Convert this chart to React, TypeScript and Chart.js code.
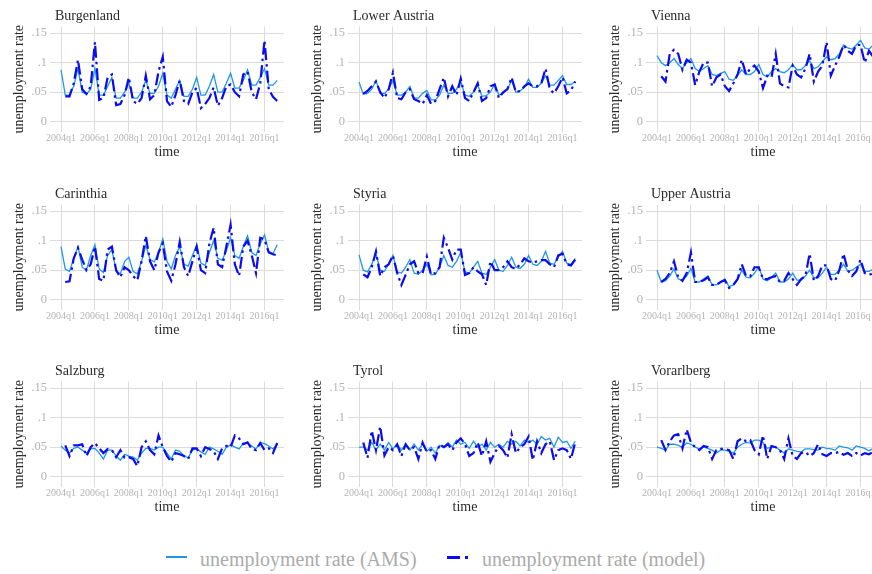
import React, { useEffect, useRef } from "react";
import { Chart, registerables } from "chart.js";

Chart.register(...registerables);

const FONT = "'Liberation Serif', 'Times New Roman', serif";
const AMS_COLOR = "#1f97e2";
const MODEL_COLOR = "#0b0bf2";
const TICK_COLOR = "#b4b4b4";
const GRID_COLOR = "#dcdcdc";
const TEXT_COLOR = "#2a2a2a";

const xTickQuarters = [0, 8, 16, 24, 32, 40, 48];
const xTickLabels = ["2004q1", "2006q1", "2008q1", "2010q1", "2012q1", "2014q1", "2016q1"];
const yTickValues = [0, 0.05, 0.1, 0.15];
const yTickLabels = ["0", ".05", ".1", ".15"];
const regionNames = ["Burgenland", "Lower Austria", "Vienna", "Carinthia", "Styria", "Upper Austria", "Salzburg", "Tyrol", "Vorarlberg"];

const burgenlandAMS = [0.088, 0.045, 0.045, 0.060, 0.090, 0.050, 0.047, 0.055, 0.090, 0.045, 0.045, 0.060, 0.075, 0.040, 0.040, 0.050, 0.065, 0.040, 0.040, 0.050, 0.070, 0.048, 0.048, 0.060, 0.082, 0.045, 0.040, 0.055, 0.070, 0.043, 0.043, 0.055, 0.075, 0.045, 0.045, 0.060, 0.080, 0.050, 0.050, 0.065, 0.082, 0.057, 0.057, 0.070, 0.088, 0.062, 0.062, 0.075, 0.090, 0.062, 0.062, 0.070];
const burgenlandModel = [null, 0.043, 0.043, 0.065, 0.105, 0.055, 0.047, 0.060, 0.135, 0.037, 0.040, 0.075, 0.080, 0.028, 0.030, 0.045, 0.075, 0.035, 0.030, 0.040, 0.078, 0.038, 0.045, 0.085, 0.110, 0.035, 0.025, 0.045, 0.070, 0.035, 0.030, 0.050, 0.057, 0.023, 0.030, 0.040, 0.058, 0.027, 0.040, 0.060, 0.063, 0.050, 0.043, 0.080, 0.085, 0.050, 0.038, 0.065, 0.138, 0.055, 0.042, 0.035];

const lowerAustriaAMS = [0.067, 0.047, 0.048, 0.055, 0.070, 0.048, 0.048, 0.055, 0.070, 0.045, 0.045, 0.050, 0.060, 0.040, 0.040, 0.048, 0.053, 0.037, 0.037, 0.045, 0.062, 0.048, 0.048, 0.055, 0.068, 0.045, 0.043, 0.050, 0.062, 0.043, 0.044, 0.050, 0.064, 0.045, 0.048, 0.055, 0.070, 0.050, 0.052, 0.058, 0.072, 0.058, 0.058, 0.065, 0.078, 0.062, 0.062, 0.070, 0.078, 0.063, 0.063, 0.068];
const lowerAustriaModel = [null, 0.047, 0.052, 0.060, 0.068, 0.050, 0.040, 0.055, 0.083, 0.040, 0.038, 0.050, 0.055, 0.038, 0.035, 0.030, 0.045, 0.030, 0.035, 0.055, 0.075, 0.043, 0.060, 0.045, 0.073, 0.040, 0.035, 0.050, 0.065, 0.035, 0.040, 0.060, 0.063, 0.040, 0.050, 0.055, 0.075, 0.050, 0.052, 0.060, 0.065, 0.060, 0.060, 0.065, 0.090, 0.055, 0.048, 0.060, 0.075, 0.048, 0.053, 0.068];

const viennaAMS = [0.112, 0.100, 0.095, 0.100, 0.107, 0.097, 0.090, 0.100, 0.107, 0.090, 0.085, 0.090, 0.095, 0.080, 0.078, 0.082, 0.085, 0.072, 0.070, 0.078, 0.088, 0.080, 0.080, 0.085, 0.097, 0.080, 0.076, 0.085, 0.090, 0.085, 0.083, 0.088, 0.097, 0.088, 0.088, 0.095, 0.103, 0.090, 0.093, 0.102, 0.110, 0.105, 0.107, 0.115, 0.130, 0.125, 0.123, 0.130, 0.138, 0.125, 0.123, 0.130];
const viennaModel = [null, 0.077, 0.068, 0.115, 0.122, 0.115, 0.088, 0.105, 0.100, 0.062, 0.085, 0.100, 0.100, 0.060, 0.075, 0.080, 0.060, 0.052, 0.065, 0.080, 0.105, 0.080, 0.090, 0.095, 0.085, 0.057, 0.078, 0.075, 0.115, 0.065, 0.060, 0.058, 0.095, 0.080, 0.075, 0.090, 0.115, 0.068, 0.085, 0.095, 0.135, 0.078, 0.095, 0.110, 0.130, 0.120, 0.115, 0.130, 0.130, 0.100, 0.120, 0.110];

const carinthiaAMS = [0.090, 0.052, 0.048, 0.070, 0.090, 0.055, 0.050, 0.075, 0.093, 0.052, 0.046, 0.075, 0.085, 0.048, 0.044, 0.065, 0.072, 0.048, 0.044, 0.065, 0.092, 0.068, 0.064, 0.080, 0.103, 0.065, 0.052, 0.075, 0.090, 0.060, 0.057, 0.075, 0.093, 0.062, 0.058, 0.080, 0.100, 0.070, 0.067, 0.083, 0.105, 0.075, 0.070, 0.090, 0.108, 0.080, 0.075, 0.095, 0.110, 0.082, 0.078, 0.093];
const carinthiaModel = [null, 0.030, 0.031, 0.070, 0.088, 0.068, 0.050, 0.060, 0.090, 0.035, 0.032, 0.085, 0.090, 0.050, 0.038, 0.055, 0.050, 0.040, 0.033, 0.065, 0.108, 0.065, 0.050, 0.080, 0.095, 0.048, 0.032, 0.060, 0.098, 0.055, 0.040, 0.065, 0.090, 0.050, 0.045, 0.095, 0.122, 0.060, 0.055, 0.090, 0.127, 0.060, 0.040, 0.090, 0.100, 0.075, 0.045, 0.105, 0.102, 0.080, 0.077, 0.075];

const styriaAMS = [0.076, 0.050, 0.047, 0.060, 0.078, 0.050, 0.048, 0.060, 0.075, 0.047, 0.045, 0.055, 0.068, 0.045, 0.043, 0.050, 0.060, 0.042, 0.043, 0.055, 0.075, 0.058, 0.055, 0.065, 0.080, 0.047, 0.045, 0.055, 0.065, 0.045, 0.043, 0.055, 0.068, 0.050, 0.048, 0.058, 0.072, 0.055, 0.053, 0.060, 0.075, 0.060, 0.058, 0.065, 0.082, 0.062, 0.060, 0.072, 0.082, 0.062, 0.060, 0.070];
const styriaModel = [null, 0.043, 0.038, 0.055, 0.082, 0.040, 0.055, 0.060, 0.075, 0.045, 0.025, 0.042, 0.060, 0.065, 0.045, 0.045, 0.073, 0.042, 0.045, 0.055, 0.105, 0.088, 0.068, 0.085, 0.085, 0.042, 0.045, 0.055, 0.048, 0.043, 0.025, 0.065, 0.050, 0.050, 0.055, 0.065, 0.055, 0.052, 0.060, 0.070, 0.065, 0.063, 0.065, 0.067, 0.067, 0.060, 0.055, 0.075, 0.078, 0.060, 0.058, 0.068];

const upperAustriaAMS = [0.050, 0.030, 0.032, 0.040, 0.052, 0.035, 0.033, 0.040, 0.053, 0.030, 0.030, 0.035, 0.040, 0.025, 0.025, 0.030, 0.035, 0.022, 0.025, 0.033, 0.050, 0.038, 0.037, 0.045, 0.056, 0.035, 0.032, 0.038, 0.045, 0.030, 0.030, 0.035, 0.045, 0.033, 0.033, 0.040, 0.050, 0.037, 0.037, 0.045, 0.055, 0.043, 0.043, 0.050, 0.060, 0.048, 0.050, 0.055, 0.060, 0.048, 0.048, 0.052];
const upperAustriaModel = [null, 0.030, 0.035, 0.045, 0.065, 0.038, 0.032, 0.045, 0.080, 0.030, 0.030, 0.033, 0.038, 0.025, 0.025, 0.030, 0.033, 0.020, 0.025, 0.035, 0.060, 0.040, 0.040, 0.055, 0.055, 0.035, 0.035, 0.038, 0.040, 0.030, 0.032, 0.045, 0.035, 0.025, 0.035, 0.040, 0.078, 0.032, 0.040, 0.058, 0.058, 0.035, 0.032, 0.050, 0.078, 0.050, 0.040, 0.048, 0.068, 0.045, 0.042, 0.045];

const salzburgAMS = [0.052, 0.045, 0.040, 0.048, 0.050, 0.045, 0.040, 0.047, 0.048, 0.040, 0.030, 0.045, 0.045, 0.035, 0.028, 0.038, 0.035, 0.033, 0.028, 0.040, 0.048, 0.048, 0.045, 0.050, 0.050, 0.040, 0.030, 0.045, 0.043, 0.035, 0.032, 0.045, 0.047, 0.042, 0.038, 0.050, 0.047, 0.043, 0.038, 0.050, 0.054, 0.050, 0.047, 0.057, 0.057, 0.052, 0.047, 0.058, 0.056, 0.052, 0.047, 0.055];
const salzburgModel = [null, 0.053, 0.035, 0.053, 0.053, 0.055, 0.035, 0.050, 0.057, 0.048, 0.040, 0.047, 0.045, 0.033, 0.045, 0.032, 0.033, 0.030, 0.018, 0.050, 0.060, 0.045, 0.038, 0.070, 0.050, 0.035, 0.025, 0.040, 0.038, 0.035, 0.030, 0.048, 0.048, 0.035, 0.050, 0.047, 0.043, 0.030, 0.048, 0.052, 0.050, 0.070, 0.065, 0.055, 0.058, 0.047, 0.045, 0.057, 0.045, 0.048, 0.040, 0.057];

const tyrolAMS = [0.050, 0.050, 0.045, 0.058, 0.045, 0.055, 0.045, 0.058, 0.047, 0.055, 0.045, 0.055, 0.045, 0.055, 0.045, 0.055, 0.043, 0.050, 0.040, 0.053, 0.050, 0.058, 0.050, 0.062, 0.055, 0.058, 0.048, 0.060, 0.050, 0.055, 0.045, 0.058, 0.050, 0.055, 0.050, 0.060, 0.055, 0.060, 0.052, 0.062, 0.058, 0.062, 0.055, 0.068, 0.062, 0.065, 0.050, 0.067, 0.058, 0.060, 0.048, 0.060];
const tyrolModel = [null, 0.058, 0.032, 0.078, 0.045, 0.085, 0.036, 0.050, 0.045, 0.055, 0.035, 0.055, 0.045, 0.050, 0.030, 0.058, 0.042, 0.045, 0.030, 0.055, 0.050, 0.055, 0.045, 0.058, 0.065, 0.055, 0.035, 0.040, 0.058, 0.035, 0.060, 0.025, 0.040, 0.052, 0.045, 0.032, 0.072, 0.040, 0.050, 0.055, 0.068, 0.028, 0.060, 0.040, 0.055, 0.060, 0.028, 0.045, 0.048, 0.045, 0.030, 0.058];

const vorarlbergAMS = [0.050, 0.048, 0.045, 0.055, 0.055, 0.053, 0.050, 0.057, 0.055, 0.050, 0.047, 0.050, 0.048, 0.045, 0.040, 0.045, 0.045, 0.043, 0.040, 0.050, 0.055, 0.058, 0.057, 0.062, 0.062, 0.058, 0.048, 0.050, 0.050, 0.045, 0.040, 0.047, 0.045, 0.043, 0.042, 0.047, 0.047, 0.046, 0.045, 0.050, 0.048, 0.047, 0.045, 0.052, 0.050, 0.049, 0.045, 0.052, 0.050, 0.048, 0.044, 0.048];
const vorarlbergModel = [null, 0.062, 0.045, 0.060, 0.070, 0.072, 0.048, 0.080, 0.058, 0.050, 0.045, 0.052, 0.050, 0.030, 0.045, 0.047, 0.047, 0.045, 0.030, 0.060, 0.065, 0.060, 0.062, 0.045, 0.038, 0.070, 0.030, 0.052, 0.050, 0.045, 0.030, 0.065, 0.035, 0.030, 0.040, 0.042, 0.035, 0.040, 0.055, 0.038, 0.035, 0.040, 0.040, 0.042, 0.037, 0.040, 0.035, 0.040, 0.036, 0.040, 0.038, 0.042];

const amsSeries = [burgenlandAMS, lowerAustriaAMS, viennaAMS, carinthiaAMS, styriaAMS, upperAustriaAMS, salzburgAMS, tyrolAMS, vorarlbergAMS];
const modelSeries = [burgenlandModel, lowerAustriaModel, viennaModel, carinthiaModel, styriaModel, upperAustriaModel, salzburgModel, tyrolModel, vorarlbergModel];

const PANEL_W = 298;
const PANEL_H = 178;
const ROW_TOPS = [0, 178, 355];

function Panel({ name, ams, model }: { name: string; ams: number[]; model: (number | null)[] }) {
  const ref = useRef<HTMLCanvasElement | null>(null);
  useEffect(() => {
    if (!ref.current) return;
    const titlePlugin = {
      id: "panelTitle",
      afterDraw(chart: any) {
        const { ctx, chartArea } = chart;
        ctx.save();
        ctx.font = `normal 14px ${FONT}`;
        ctx.fillStyle = TEXT_COLOR;
        ctx.textAlign = "left";
        ctx.textBaseline = "alphabetic";
        ctx.fillText(name, chartArea.left + 5, 19.5);
        ctx.restore();
      },
    };
    const chart = new Chart(ref.current, {
      type: "line",
      data: {
        datasets: [
          {
            label: "unemployment rate (AMS)",
            data: ams.map((v, i) => ({ x: i, y: v })),
            borderColor: AMS_COLOR,
            borderWidth: 1.3,
            pointRadius: 0,
            tension: 0,
            fill: false,
            order: 1,
          },
          {
            label: "unemployment rate (model)",
            data: model.map((v, i) => ({ x: i, y: v })),
            borderColor: MODEL_COLOR,
            borderWidth: 2.2,
            borderDash: [12, 4, 2.5, 4],
            pointRadius: 0,
            tension: 0,
            fill: false,
            spanGaps: false,
            order: 0,
          },
        ],
      },
      options: {
        responsive: false,
        animation: false,
        devicePixelRatio: 1,
        layout: { padding: { top: 26.7, right: 14, left: 0, bottom: 0 } },
        plugins: {
          legend: { display: false },
          tooltip: { enabled: false },
          title: { display: false },
        },
        scales: {
          x: {
            type: "linear",
            min: -2.6,
            max: 52.6,
            afterBuildTicks: (s: any) => {
              s.ticks = xTickQuarters.map((v) => ({ value: v }));
            },
            afterFit: (s: any) => {
              s.height = 46.3;
            },
            ticks: {
              autoSkip: false,
              maxRotation: 0,
              minRotation: 0,
              padding: 1,
              color: TICK_COLOR,
              font: { family: FONT, size: 10, weight: "normal" },
              callback: (_v: any, i: number) => xTickLabels[i],
            },
            grid: { color: GRID_COLOR, lineWidth: 1, drawTicks: false },
            border: { display: false },
            title: {
              display: true,
              text: "time",
              color: TEXT_COLOR,
              font: { family: FONT, size: 14, weight: "normal" },
              padding: { top: 0, bottom: 17 },
            },
          },
          y: {
            type: "linear",
            min: -0.017,
            max: 0.161,
            afterBuildTicks: (s: any) => {
              s.ticks = yTickValues.map((v) => ({ value: v }));
            },
            afterFit: (s: any) => {
              s.width = 50;
            },
            ticks: {
              autoSkip: false,
              padding: 3,
              color: TICK_COLOR,
              font: { family: FONT, size: 12.5, weight: "normal" },
              callback: (_v: any, i: number) => yTickLabels[i],
            },
            grid: { color: GRID_COLOR, lineWidth: 1, drawTicks: false },
            border: { display: false },
            title: {
              display: true,
              text: "unemployment rate",
              color: TEXT_COLOR,
              font: { family: FONT, size: 14, weight: "normal" },
              padding: { top: 11, bottom: 0 },
            },
          },
        },
      },
      plugins: [titlePlugin],
    } as any);
    return () => chart.destroy();
  }, [name, ams, model]);
  return (
    <canvas
      ref={ref}
      width={PANEL_W}
      height={PANEL_H}
      style={{ display: "block", width: PANEL_W, height: PANEL_H }}
    />
  );
}

export default function App() {
  const legendText: React.CSSProperties = {
    position: "absolute",
    top: 548,
    fontFamily: FONT,
    fontSize: 20,
    lineHeight: "22px",
    color: "#ababab",
    whiteSpace: "nowrap",
  };
  return (
    <div
      style={{
        position: "absolute",
        left: 0,
        top: 0,
        width: 872,
        height: 574,
        overflow: "hidden",
        background: "#ffffff",
      }}
    >
      {regionNames.map((name, k) => (
        <div
          key={name}
          style={{ position: "absolute", left: (k % 3) * PANEL_W, top: ROW_TOPS[Math.floor(k / 3)] }}
        >
          <Panel name={name} ams={amsSeries[k]} model={modelSeries[k]} />
        </div>
      ))}
      <div style={{ position: "absolute", left: 166, top: 556, width: 21, height: 2, background: AMS_COLOR }} />
      <span style={{ ...legendText, left: 200 }}>unemployment rate (AMS)</span>
      <div style={{ position: "absolute", left: 447, top: 556, width: 13, height: 3, background: MODEL_COLOR }} />
      <div style={{ position: "absolute", left: 465, top: 556, width: 3, height: 3, background: MODEL_COLOR }} />
      <span style={{ ...legendText, left: 482 }}>unemployment rate (model)</span>
    </div>
  );
}
